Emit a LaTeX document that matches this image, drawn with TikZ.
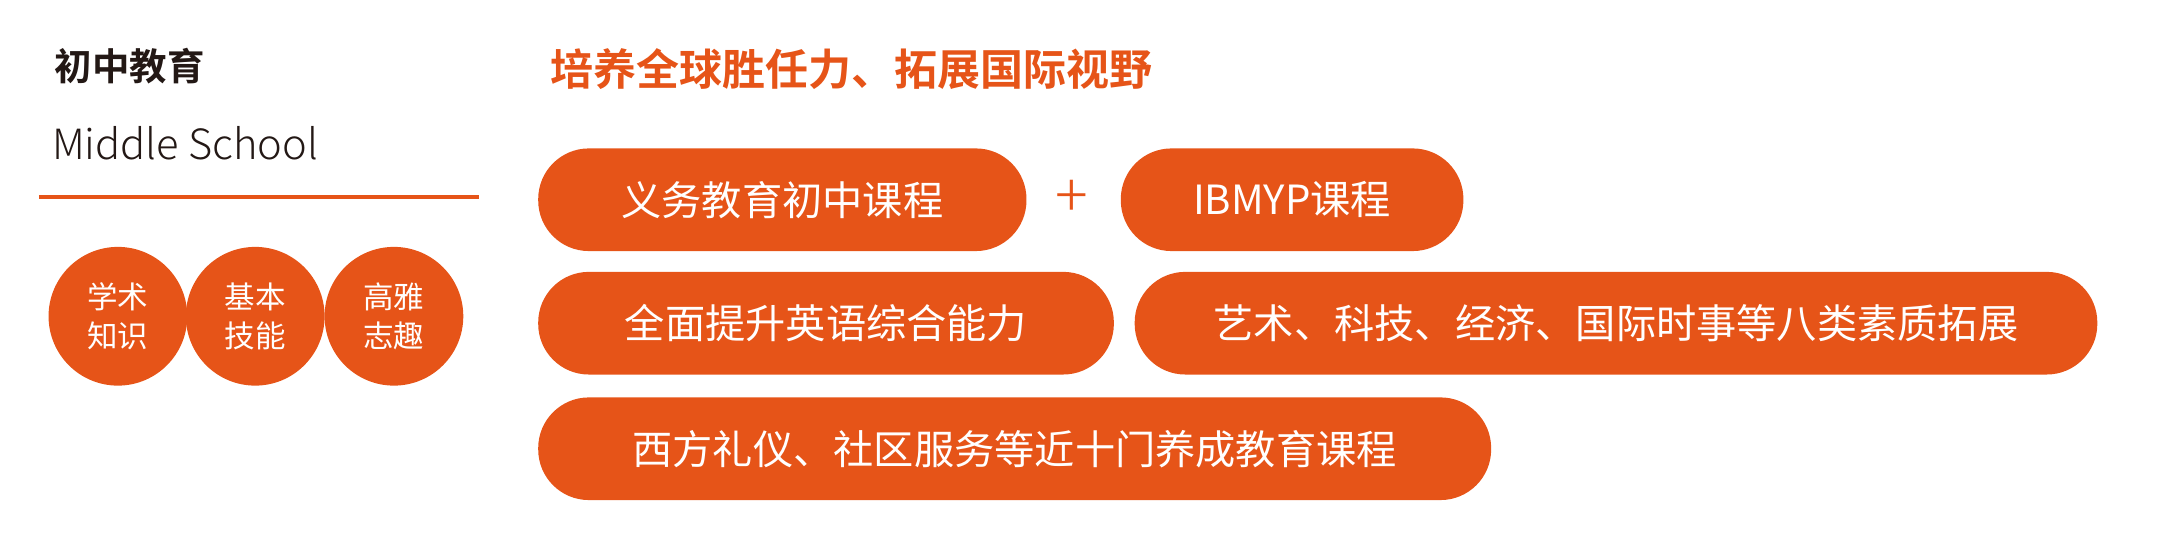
\documentclass[tikz,border=0pt]{standalone}
\usepackage{fontspec}
\setmainfont{Noto Sans CJK SC}
\newfontfamily\cjkb{Noto Sans CJK SC Bold}
\newfontfamily\cjkl{Noto Sans CJK SC Light}
\definecolor{org}{HTML}{E65418}
\definecolor{dk}{HTML}{231815}
\tikzset{
 x=1pt,y=-1pt,
 pill/.style={fill=org,rounded corners=36.5pt,minimum height=74pt,text=white,font=\fontsize{29}{30}\selectfont,inner sep=0pt},
 circ/.style={circle,fill=org,minimum size=100pt,inner sep=0pt,text=white,align=center,font=\fontsize{22}{28}\selectfont}
}
\begin{document}
\begin{tikzpicture}
\useasboundingbox (0,0) rectangle (1568,395);
\node[anchor=west,text=dk,font=\cjkb\fontsize{27}{28}\selectfont] (t1) at (36,48) {初中教育};
\node[anchor=west,text=dk,font=\cjkl\fontsize{30}{32}\selectfont] (t2) at (34,103) {Middle School};
\draw[org,line width=3pt] (28,142) coordinate (l1) -- (345,142) coordinate (l2);
\node[circ] (c1) at (85,228) {学术\\知识};
\node[circ] (c2) at (184,228) {基本\\技能};
\node[circ] (c3) at (284,228) {高雅\\志趣};
\node[anchor=west,text=org,font=\cjkb\fontsize{31}{32}\selectfont] (title) at (393,50) {培养全球胜任力、拓展国际视野};
\node[pill,minimum width=352pt] (p1) at (564,144) {义务教育初中课程};
\node[text=org,font=\cjkl\fontsize{44}{44}\selectfont,inner sep=0pt] (plus) at (773,143) {+};
\node[pill,minimum width=247pt] (p2) at (931.5,144) {IBMYP课程};
\node[pill,minimum width=415pt] (p3) at (595.5,233) {全面提升英语综合能力};
\node[pill,minimum width=694pt] (p4) at (1165,233) {艺术、科技、经济、国际时事等八类素质拓展};
\node[pill,minimum width=687pt] (p5) at (731.5,323.5) {西方礼仪、社区服务等近十门养成教育课程};
\end{tikzpicture}
\end{document}
